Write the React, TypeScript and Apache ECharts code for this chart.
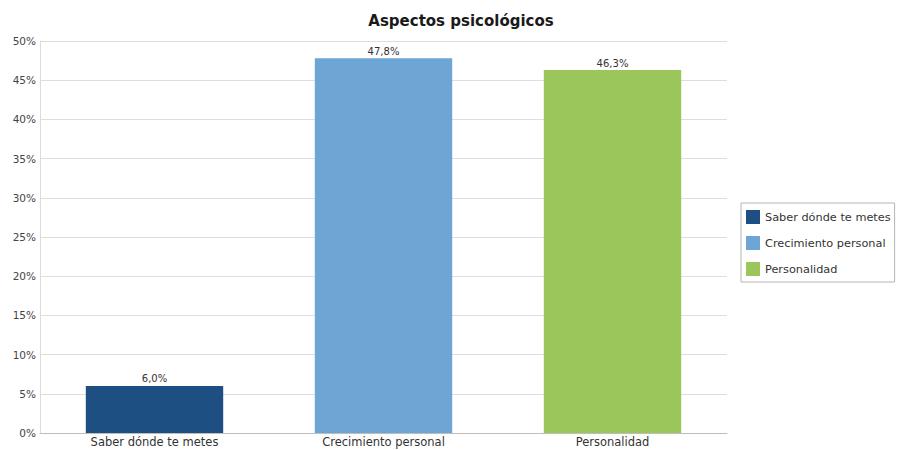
import React, { useEffect, useRef } from "react";
import * as echarts from "echarts";

const categories = ["Saber dónde te metes", "Crecimiento personal", "Personalidad"];
const seriesNames = ["Saber dónde te metes", "Crecimiento personal", "Personalidad"];
const values = [6.0, 47.8, 46.3];
const colors = ["#1d4f82", "#6da6d5", "#9ac65b"];
const yTicks = [0, 5, 10, 15, 20, 25, 30, 35, 40, 45, 50];

export default function App() {
  const ref = useRef<HTMLDivElement>(null);
  useEffect(() => {
    if (!ref.current) return;
    const chart = echarts.init(ref.current, undefined, { renderer: "svg" });
    const font = "DejaVu Sans, Verdana, sans-serif";
    chart.setOption({
      animation: false,
      backgroundColor: "#ffffff",
      textStyle: { fontFamily: font },
      title: {
        text: "Aspectos psicológicos",
        left: 456,
        textAlign: "center",
        top: 8,
        textStyle: { fontSize: 15, fontWeight: "bold", color: "#1a1a1a", fontFamily: font },
      },
      legend: {
        orient: "vertical",
        left: 741,
        top: 203,
        data: seriesNames,
        itemWidth: 14,
        itemHeight: 14,
        itemGap: 12,
        padding: [7, 4, 6, 5],
        borderColor: "#b5b5b5",
        borderWidth: 1,
        textStyle: { fontSize: 11.3, color: "#333", fontFamily: font },
        icon: "rect",
      },
      grid: { left: 40, right: 171, top: 41, bottom: 17, containLabel: false },
      xAxis: {
        type: "category",
        data: categories,
        axisTick: { show: false },
        axisLine: { lineStyle: { color: "#bdbdbd" } },
        axisLabel: { fontSize: 11.5, color: "#333", margin: 3, fontFamily: font },
      },
      yAxis: {
        type: "value",
        min: yTicks[0],
        max: yTicks[yTicks.length - 1],
        interval: 5,
        axisLine: { show: true, lineStyle: { color: "#dcdcdc" } },
        axisTick: { show: false },
        splitLine: { lineStyle: { color: "#dedede" } },
        axisLabel: { formatter: "{value}%", fontSize: 10.5, color: "#444", margin: 4, fontFamily: font },
      },
      series: seriesNames.map((name, i) => ({
        name,
        type: "bar",
        stack: "s",
        barCategoryGap: "40%",
        itemStyle: { color: colors[i] },
        data: categories.map((_, j) => (j === i ? values[i] : null)),
        label: {
          show: true,
          position: "top",
          distance: 2,
          fontSize: 10,
          color: "#333",
          fontFamily: font,
          formatter: (p: any) => p.value.toFixed(1).replace(".", ",") + "%",
        },
      })),
    });
    return () => chart.dispose();
  }, []);
  return <div ref={ref} style={{ width: 898, height: 450, position: "absolute", left: 0, top: 0 }} />;
}
